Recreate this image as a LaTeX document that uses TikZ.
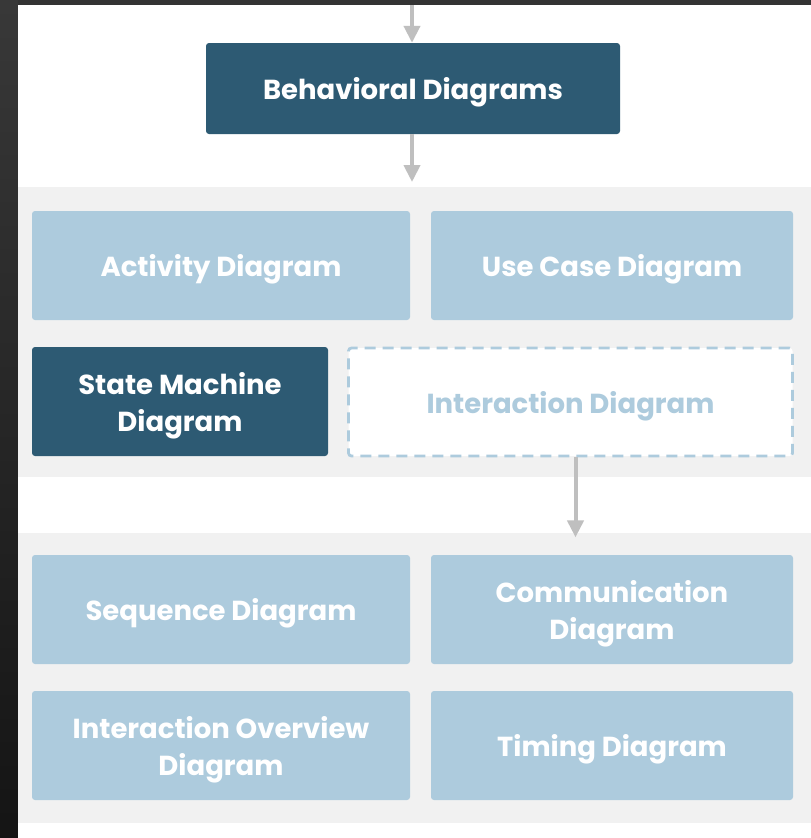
\documentclass[tikz,border=0pt]{standalone}
\usepackage{fontspec}
\setmainfont{Poppins}
\usetikzlibrary{arrows.meta,positioning,calc}
\definecolor{darkbox}{HTML}{2D5A73}
\definecolor{lightbox}{HTML}{ADCBDD}
\definecolor{bandgray}{HTML}{F1F1F1}
\definecolor{arrowgray}{HTML}{BFBFBF}
\tikzset{
box/.style={rounded corners=3pt,align=center,inner sep=0pt,text depth=0pt,font=\fontsize{27.5}{37}\selectfont\bfseries,text=white},
darkbox/.style={box,fill=darkbox},
lightbox/.style={box,fill=lightbox,minimum height=109pt},
dashbox/.style={box,fill=white,draw=lightbox,line width=2.8pt,dash pattern=on 11pt off 7pt,text=lightbox},
arr/.style={-{Triangle[length=17pt,width=16pt]},draw=arrowgray,line width=4pt},
}

\begin{document}
\begin{tikzpicture}[x=1pt,y=-1pt]

        % Frame and background
        \fill[black!80] (0,0) rectangle (811,838);
        \shade[top color=black!78,bottom color=black!92] (0,0) rectangle (18,838);
        \fill[white] (18,5) rectangle (811,838);
        \fill[bandgray] (18,187) rectangle (811,477);
        \fill[bandgray] (18,533) rectangle (811,823);

        % Top box
        \coordinate (top in) at (412,5);
        \node[darkbox,minimum width=414pt,minimum height=91pt] (behavioral) at (413,88.5) {Behavioral Diagrams};
        \coordinate (band one) at (412,182);

        % First group
        \node[lightbox,minimum width=378pt] (activity) at (221,265.5) {Activity Diagram};
        \node[lightbox,minimum width=362pt] (usecase) at (612,265.5) {Use Case Diagram};
        \node[darkbox,minimum width=296pt,minimum height=109pt] (statemachine) at (180,401.5) {State Machine\\Diagram};
        \node[dashbox,minimum width=444pt,minimum height=108pt] (interaction) at (570.5,402) {Interaction Diagram};
        \coordinate (band two) at ($(interaction.south)+(5,80)$);

        % Second group
        \node[lightbox,minimum width=378pt] (sequence) at (221,609.5) {Sequence Diagram};
        \node[lightbox,minimum width=362pt] (communication) at (612,609.5) {Communication\\Diagram};
        \node[lightbox,minimum width=378pt] (overview) at (221,745.5) {Interaction Overview\\Diagram};
        \node[lightbox,minimum width=362pt] (timing) at (612,745.5) {Timing Diagram};

        % Arrows
        \draw[arr] (top in) -- ($(behavioral.north)+(-1,0)$);
        \draw[arr] ($(behavioral.south)+(-1,0)$) -- (band one);
        \draw[arr] ($(interaction.south)+(5,0)$) -- (band two);

\end{tikzpicture}
\end{document}
